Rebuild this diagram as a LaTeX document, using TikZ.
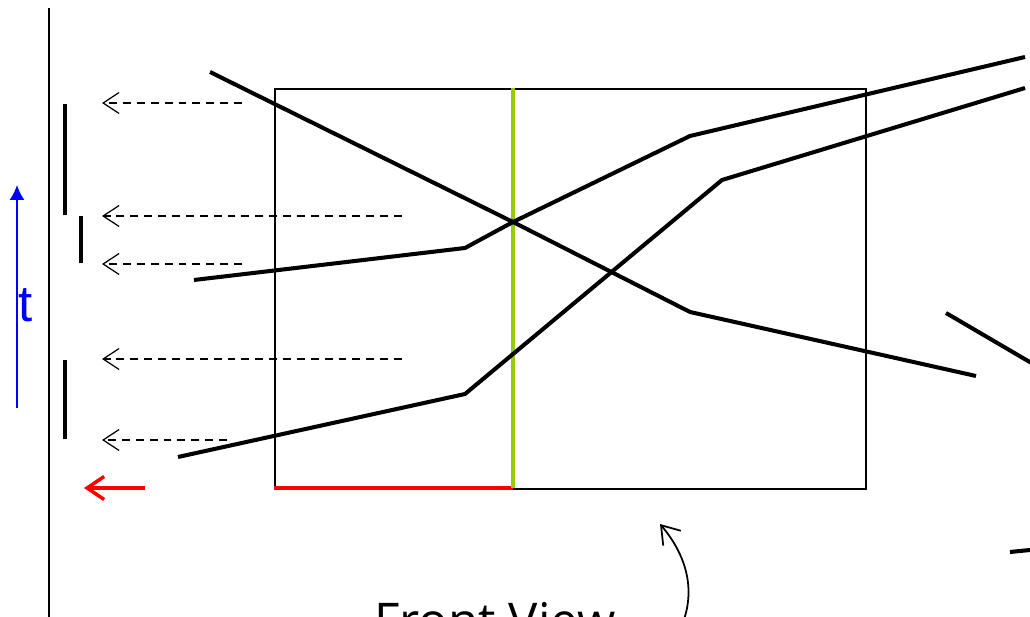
\documentclass[tikz,border=0pt]{standalone}
\usepackage{fontspec}
\setmainfont{Open Sans}
\newfontfamily\labelfont{Liberation Sans}
\usetikzlibrary{arrows.meta}
\definecolor{limegreen}{RGB}{153,204,0}
\definecolor{timeblue}{RGB}{0,0,255}
\definecolor{viewred}{RGB}{255,0,0}

\begin{document}
\begin{tikzpicture}[
        x=0.02cm, y=-0.02cm,
        ray/.style={line width=2.3pt, line join=round},
        frame/.style={draw, line width=1pt},
        echo/.style={line width=2.3pt},
        probe/.style={draw, dashed, line width=0.6pt, dash pattern=on 4.5pt off 3.4pt, -{Straight Barb[length=3.2mm, width=4.2mm, line width=0.7pt]}},
        barb/.style={-{Straight Barb[length=3.4mm, width=4.6mm]}}
    ]
        \useasboundingbox (0,0) rectangle (1030,617);
        \clip (0,0) rectangle (1030,617);

        % time axis
        \draw [line width=1pt] (49,8) -- (49,630);
        \draw [timeblue, line width=1pt, -{Latex[length=3mm, width=3mm]}] (17,408) -- (17,185)
            node [pos=0.46, right=-3pt, font=\labelfont\fontsize{29}{29}\selectfont] (tlab) {t};

        % front view box
        \node [frame, minimum width=11.82cm, minimum height=8cm, anchor=north west, inner sep=0pt] (box) at (274,88) {};
        \coordinate (cross) at (513,222);
        \draw [viewred, line width=1.8pt] (274,488) -- (513,488) coordinate (base);
        \draw [limegreen, line width=1.8pt] (513,88) -- (base);

        % rays
        \draw [ray] (210,72) -- (cross) -- (690,312) -- (976,376);
        \draw [ray] (194,280) -- (465,248) -- (cross) -- (690,136) -- (1025,57);
        \draw [ray] (178,457) -- (465,394) -- (722,180) -- (1025,88);
        \draw [ray] (946,313) -- (1040,368);
        \draw [ray] (1010,552) -- (1040,549);

        % echoes
        \draw [echo] (65,104) -- (65,215);
        \draw [echo] (81,216) -- (81,263);
        \draw [echo] (65,360) -- (65,439);

        \path [probe] (242,103) -- (102,103);
        \path [probe] (402,216) -- (102,216);
        \path [probe] (242,264) -- (102,264);
        \path [probe] (402,359) -- (102,359);
        \path [probe] (227,440) -- (102,440);

        \draw [viewred, line width=2pt, barb] (145,488) -- (84,488);

        % label
        \node [anchor=base west, inner sep=0pt, font=\fontsize{28}{28}\selectfont] (front) at (374,638) {Front View};
        \draw [line width=1pt, barb] (682,625) .. controls (698,585) and (682,550) .. (660,524);
    \end{tikzpicture}
\end{document}
